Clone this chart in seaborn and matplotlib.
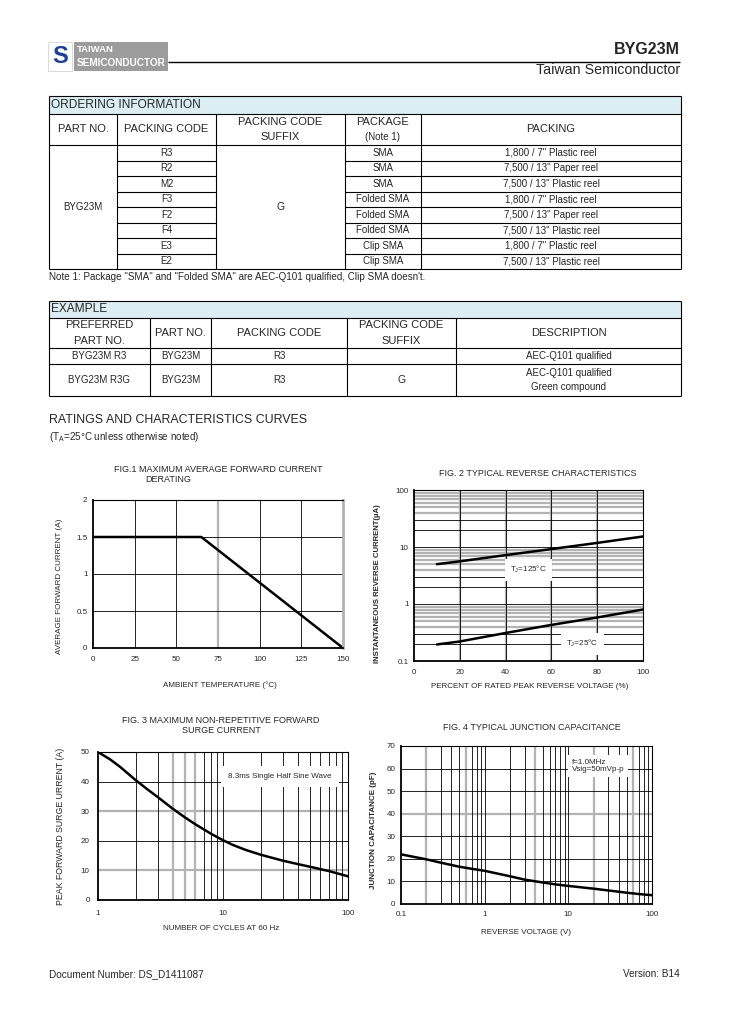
import matplotlib.pyplot as plt
import numpy as np
import pandas as pd
import seaborn as sns
from matplotlib.patches import Rectangle

# page size in pixels (dpi 100)
W, H = 729, 1032

# ---- ordering information table
order_part = "BYG23M"
order_codes = ["R3", "R2", "M2", "F3", "F2", "F4", "E3", "E2"]
order_suffix = "G"
order_packages = ["SMA", "SMA", "SMA", "Folded SMA", "Folded SMA", "Folded SMA",
                  "Clip SMA", "Clip SMA"]
order_packing = ['1,800 / 7" Plastic reel', '7,500 / 13" Paper reel',
                 '7,500 / 13" Plastic reel', '1,800 / 7" Plastic reel',
                 '7,500 / 13" Paper reel', '7,500 / 13" Plastic reel',
                 '1,800 / 7" Plastic reel', '7,500 / 13" Plastic reel']

# ---- example table
example_preferred = ["BYG23M R3", "BYG23M R3G"]
example_part = ["BYG23M", "BYG23M"]
example_code = ["R3", "R3"]
example_suffix = ["", "G"]
example_desc = ["AEC-Q101 qualified", "AEC-Q101 qualified\nGreen compound"]

# ---- curves
fig1_temp = [0, 65, 150]
fig1_current = [1.5, 1.5, 0]

fig2_pct = [10, 20, 40, 60, 80, 100]
fig2_ir_125 = [5.0, 5.6, 7.2, 9.2, 11.8, 15.3]
fig2_ir_25 = [0.195, 0.22, 0.31, 0.43, 0.58, 0.8]

fig3_cycles = [1, 1.25, 1.5, 2, 2.5, 3, 4, 5, 6, 8, 10, 12, 15, 20, 30, 40, 50, 70, 100]
fig3_ifsm = [50, 47.5, 45, 40.5, 37.3, 34.8, 30.7, 27.8, 25.6, 22.4, 20.2, 18.6, 17.0,
             15.3, 13.3, 12.1, 11.2, 9.8, 8]

fig4_vr = [0.1, 0.2, 0.3, 0.5, 0.7, 1, 1.5, 2, 3, 5, 7, 10, 20, 30, 50, 70, 100]
fig4_cj = [22, 19.8, 18.3, 16.5, 15.6, 14.7, 13.3, 12.3, 10.8, 9.5, 8.7, 8.0, 6.8, 6.0,
           5.0, 4.4, 3.9]

sns.set_style("white")
plt.rcParams["font.family"] = ["Liberation Sans", "DejaVu Sans"]
plt.rcParams["mathtext.fontset"] = "custom"
plt.rcParams["mathtext.rm"] = "Liberation Sans"
plt.rcParams["mathtext.it"] = "Liberation Sans"

GREY = "#b3b3b3"
BLUE_FILL = "#daeef3"
HEAD = 8.0     # spaced table headings
CELL = 7.0     # table body text

fig = plt.figure(figsize=(W / 100, H / 100), dpi=100)
page = fig.add_axes([0, 0, 1, 1])
page.set_xlim(0, W)
page.set_ylim(H, 0)
page.axis("off")


def txt(x, y, s, size=CELL, ha="center", **kw):
    page.text(x, y, s, fontsize=size, ha=ha, va="center", **kw)


def hline(x0, x1, y, lw=0.8, color="black"):
    page.plot([x0, x1], [y, y], color=color, lw=lw, solid_capstyle="butt")


def vline(x, y0, y1, lw=0.8, color="black"):
    page.plot([x, x], [y0, y1], color=color, lw=lw, solid_capstyle="butt")


# ---- header
page.add_patch(Rectangle((48, 42), 24, 29, facecolor="white", edgecolor="#cccccc", lw=0.5))
txt(60, 56.5, "S", size=17, color="#1d3f94", fontweight="bold")
page.add_patch(Rectangle((74, 42), 94, 29, facecolor="#9c9c9c", edgecolor="none"))
txt(77, 49.5, "TAIWAN", size=6.8, ha="left", color="white", fontweight="bold")
txt(77, 63, "SEMICONDUCTOR", size=7.2, ha="left", color="white", fontweight="bold")
hline(168, 680, 62, lw=1.0)
txt(680, 50, "BYG23M", size=11.5, ha="right", fontweight="bold")
txt(680, 70.5, "Taiwan Semiconductor", size=10.3, ha="right")

# ---- ordering information table
oc = [49, 117, 216, 345, 421, 681]
ot, oh1, oh2 = 96, 114, 145
rh = 15.5
ob = oh2 + rh * len(order_codes)
page.add_patch(Rectangle((oc[0], ot), oc[-1] - oc[0], oh1 - ot, facecolor=BLUE_FILL,
                         edgecolor="none"))
for y in [ot, oh1, oh2, ob]:
    hline(oc[0], oc[-1], y)
for x in [oc[0], oc[-1]]:
    vline(x, ot, ob)
for x in oc[1:-1]:
    vline(x, oh1, ob)
for i in range(1, len(order_codes)):
    y = oh2 + rh * i
    hline(oc[1], oc[2], y)
    hline(oc[3], oc[5], y)
txt(51, 105, "ORDERING INFORMATION", size=8.6, ha="left")
cx = [(oc[i] + oc[i + 1]) / 2 for i in range(5)]
hy = (oh1 + oh2) / 2
txt(cx[0], hy, "PART NO.", size=HEAD)
txt(cx[1], hy, "PACKING CODE", size=HEAD)
txt(cx[2], 122, "PACKING CODE", size=HEAD)
txt(cx[2], 137.5, "SUFFIX", size=HEAD)
txt(cx[3], 122, "PACKAGE", size=HEAD)
txt(cx[3], 137.5, "(Note 1)", size=CELL)
txt(cx[4], hy, "PACKING", size=HEAD)
txt(cx[0], (oh2 + ob) / 2, order_part)
txt(cx[2], (oh2 + ob) / 2, order_suffix, size=7.5)
for i, (code, pkg, pck) in enumerate(zip(order_codes, order_packages, order_packing)):
    y = oh2 + rh * (i + 0.5)
    txt(cx[1], y, code)
    txt(cx[3], y, pkg)
    txt(cx[4], y, pck)
txt(49, 277.5, 'Note 1: Package "SMA" and "Folded SMA" are AEC-Q101 qualified, Clip SMA doesn\'t.',
    size=7.1, ha="left")

# ---- example table
ec = [49, 150, 211, 347, 456, 681]
ey = [301, 318, 348, 364, 396]
page.add_patch(Rectangle((ec[0], ey[0]), ec[-1] - ec[0], ey[1] - ey[0], facecolor=BLUE_FILL,
                         edgecolor="none"))
for y in ey:
    hline(ec[0], ec[-1], y)
for x in [ec[0], ec[-1]]:
    vline(x, ey[0], ey[-1])
for x in ec[1:-1]:
    vline(x, ey[1], ey[-1])
txt(51, 309.5, "EXAMPLE", size=8.6, ha="left")
ecx = [(ec[i] + ec[i + 1]) / 2 for i in range(5)]
txt(ecx[0], 325.5, "PREFERRED", size=HEAD)
txt(ecx[0], 340.5, "PART NO.", size=HEAD)
txt(ecx[1], 333, "PART NO.", size=HEAD)
txt(ecx[2], 333, "PACKING CODE", size=HEAD)
txt(ecx[3], 325.5, "PACKING CODE", size=HEAD)
txt(ecx[3], 340.5, "SUFFIX", size=HEAD)
txt(ecx[4], 333, "DESCRIPTION", size=HEAD)
for i in range(len(example_preferred)):
    y = (ey[2 + i] + ey[3 + i]) / 2
    txt(ecx[0], y, example_preferred[i])
    txt(ecx[1], y, example_part[i])
    txt(ecx[2], y, example_code[i])
    txt(ecx[3], y, example_suffix[i], size=7.5)
    txt(ecx[4], y, example_desc[i], linespacing=1.45)

txt(49, 420, "RATINGS AND CHARACTERISTICS CURVES", size=8.9, ha="left")
txt(49, 437, r"(T$_\mathrm{A}$=25°C unless otherwise noted)", size=7.1, ha="left")

# footer
txt(49, 974, "Document Number: DS_D1411087", size=7.2, ha="left")
txt(680, 974, "Version: B14", size=7.2, ha="right")


# ---- charts
def chart(l, t, r, b):
    return fig.add_axes([l / W, 1 - b / H, (r - l) / W, (b - t) / H])


def style(ax, xpad, ypad):
    for s in ax.spines.values():
        s.set_color("black")
        s.set_linewidth(0.8)
    ax.spines["left"].set_linewidth(1.3)
    ax.spines["bottom"].set_linewidth(1.3)
    ax.tick_params(which="both", length=0, labelsize=5.8)
    ax.tick_params(axis="x", pad=xpad)
    ax.tick_params(axis="y", pad=ypad)
    ax.set_xlabel("")
    ax.set_ylabel("")


def grid(ax, vblack=(), vgrey=(), hblack=(), hgrey=()):
    for v in vgrey:
        ax.axvline(v, color=GREY, lw=1.6, zorder=0.5)
    for v in vblack:
        ax.axvline(v, color="black", lw=0.6, zorder=0.6)
    for h in hgrey:
        ax.axhline(h, color=GREY, lw=1.6, zorder=0.5)
    for h in hblack:
        ax.axhline(h, color="black", lw=0.6, zorder=0.6)


def page_label(x, y, s, rot=0, size=5.8, **kw):
    page.text(x, y, s, fontsize=size, ha="center", va="center", rotation=rot, **kw)


TITLE = 6.5

# FIG 1
ax1 = chart(93, 500, 343, 648)
sns.lineplot(x=fig1_temp, y=fig1_current, ax=ax1, color="black", lw=1.8, sort=False)
ax1.set_xlim(0, 150)
ax1.set_ylim(0, 2)
ax1.set_xticks([0, 25, 50, 75, 100, 125, 150])
ax1.set_yticks([0, 0.5, 1, 1.5, 2])
ax1.set_yticklabels(["0", "0.5", "1", "1.5", "2"])
grid(ax1, vblack=[25, 50, 100, 125], vgrey=[75], hblack=[0.5, 1, 1.5])
style(ax1, 6, 4)
ax1.spines["right"].set_color(GREY)
ax1.spines["right"].set_linewidth(2)
page.text(114, 469, "FIG.1 MAXIMUM AVERAGE FORWARD CURRENT", fontsize=TITLE, ha="left", va="center")
page.text(145, 480, "DERATING", fontsize=TITLE, ha="left", va="center")
page_label(220, 685, "AMBIENT TEMPERATURE (°C)")
page_label(60, 586, "AVERAGE FORWARD CURRENT (A)", rot=90)

# FIG 2
ax2 = chart(414, 490, 643, 661)
ax2.set_yscale("log")
sns.lineplot(x=fig2_pct, y=fig2_ir_125, ax=ax2, color="black", lw=1.8)
sns.lineplot(x=fig2_pct, y=fig2_ir_25, ax=ax2, color="black", lw=1.8)
ax2.set_xlim(0, 100)
ax2.set_ylim(0.1, 100)
ax2.set_xticks([0, 20, 40, 60, 80, 100])
ax2.set_yticks([0.1, 1, 10, 100])
ax2.set_yticklabels(["0.1", "1", "10", "100"])
dec = np.array([0.1, 1, 10])
grid(ax2, vblack=[20, 40, 60, 80], vgrey=[20, 40, 60, 80],
     hblack=list(np.concatenate([dec * 2, dec * 3, [1, 10]])),
     hgrey=list(np.concatenate([dec * k for k in range(4, 10)])))
style(ax2, 6, 4)
ax2.text(50, 4.0, r"T$_\mathrm{J}$=125°C", fontsize=5.8, ha="center", va="center",
         bbox=dict(facecolor="white", edgecolor="none", pad=4))
ax2.text(73.5, 0.2, r"T$_\mathrm{J}$=25°C", fontsize=5.8, ha="center", va="center",
         bbox=dict(facecolor="white", edgecolor="none", pad=4))
page_label(538, 473.5, "FIG. 2 TYPICAL REVERSE CHARACTERISTICS", size=TITLE)
page_label(530, 686, "PERCENT OF RATED PEAK REVERSE VOLTAGE (%)")
page_label(378, 584, "INSTANTANEOUS REVERSE CURRENT(µA)", rot=90, size=5.6, fontweight="bold")

# FIG 3
ax3 = chart(98, 752, 348, 900)
ax3.set_xscale("log")
sns.lineplot(x=fig3_cycles, y=fig3_ifsm, ax=ax3, color="black", lw=1.8)
ax3.set_xlim(1, 100)
ax3.set_ylim(0, 50)
ax3.set_xticks([1, 10, 100])
ax3.set_xticklabels(["1", "10", "100"])
ax3.set_yticks([0, 10, 20, 30, 40, 50])
grid(ax3, vblack=[2, 3, 7, 8, 9, 10, 20, 30, 40, 50, 60, 70, 80, 90], vgrey=[4, 5, 6],
     hblack=[20, 40], hgrey=[10, 30])
style(ax3, 7, 6)
ax3.text(28.6, 41.8, "8.3ms Single Half Sine Wave", fontsize=5.8, ha="center", va="center",
         bbox=dict(facecolor="white", edgecolor="none", pad=5))
page_label(221, 720.5, "FIG. 3 MAXIMUM NON-REPETITIVE FORWARD", size=TITLE)
page_label(221, 730.5, "SURGE CURRENT", size=TITLE)
page_label(221, 928.5, "NUMBER OF CYCLES AT 60 Hz")
page_label(61, 826, "PEAK FORWARD SURGE URRENT (A)", rot=90, size=6.3)

# FIG 4
ax4 = chart(401, 746, 652, 904)
ax4.set_xscale("log")
sns.lineplot(x=fig4_vr, y=fig4_cj, ax=ax4, color="black", lw=1.8)
ax4.set_xlim(0.1, 100)
ax4.set_ylim(0, 70)
ax4.set_xticks([0.1, 1, 10, 100])
ax4.set_xticklabels(["0.1", "1", "10", "100"])
ax4.set_yticks([0, 10, 20, 30, 40, 50, 60, 70])
dec4 = np.array([0.1, 1, 10])
grey4 = [0.2, 0.6, 4, 20, 60]
minor4 = [d * k for d in dec4 for k in range(2, 10)]
grid(ax4, vblack=[v for v in minor4 if not any(np.isclose(v, g) for g in grey4)] + [1, 10],
     vgrey=grey4, hblack=[10, 20, 30, 50, 60], hgrey=[40])
style(ax4, 5, 4)
ax4.text(11, 61.2, "f=1.0MHz\nVsig=50mVp-p", fontsize=5.8, ha="left", va="center",
         linespacing=1.1, bbox=dict(facecolor="white", edgecolor="none", pad=2.5))
page_label(532, 727, "FIG. 4 TYPICAL JUNCTION CAPACITANCE", size=TITLE)
page_label(526, 932, "REVERSE VOLTAGE (V)")
page_label(374, 830, "JUNCTION CAPACITANCE (pF)", rot=90, size=5.8, fontweight="bold")

fig.savefig("out.png", dpi=100)
